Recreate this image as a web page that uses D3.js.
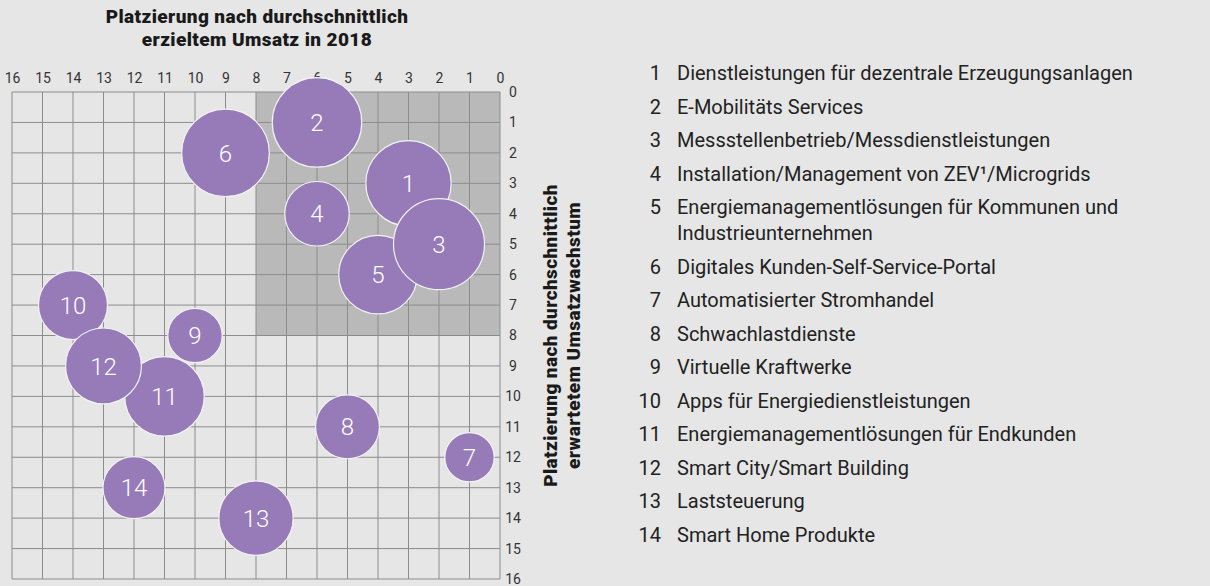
<!DOCTYPE html>
<html>
<head>
<meta charset="utf-8">
<script src="https://cdn.jsdelivr.net/npm/d3@7"></script>
<style>
  html, body { margin: 0; padding: 0; background: #e6e6e6; }
  svg { display: block; font-family: Roboto, "Noto Sans", sans-serif; }
</style>
</head>
<body>
<div class="container"></div>
<script>
// rank by average revenue 2018 (x) and by expected revenue growth (y)
const ids = [1, 2, 3, 4, 5, 6, 7, 8, 9, 10, 11, 12, 13, 14]
const umsatzRang = [3, 6, 2, 6, 4, 9, 1, 5, 10, 14, 11, 13, 8, 12]
const wachstumRang = [3, 1, 5, 4, 6, 2, 12, 11, 8, 7, 10, 9, 14, 13]
const groesse = [18.2, 20.0, 20.7, 10.4, 15.4, 19.2, 6.1, 10.2, 7.4, 11.9, 15.8, 14.4, 13.8, 9.6]
const namen = [
  "Dienstleistungen für dezentrale Erzeugungsanlagen",
  "E-Mobilitäts Services",
  "Messstellenbetrieb/Messdienstleistungen",
  "Installation/Management von ZEV¹/Microgrids",
  "Energiemanagementlösungen für Kommunen und Industrieunternehmen",
  "Digitales Kunden-Self-Service-Portal",
  "Automatisierter Stromhandel",
  "Schwachlastdienste",
  "Virtuelle Kraftwerke",
  "Apps für Energiedienstleistungen",
  "Energiemanagementlösungen für Endkunden",
  "Smart City/Smart Building",
  "Laststeuerung",
  "Smart Home Produkte"
]
const xTicks = d3.range(0, 17)
const yTicks = d3.range(0, 17)
const topRange = [0, 8]   // shaded top-8 square

const w = 1210
const h = 586
const gLeft = 12, gRight = 500, gTop = 92, gBottom = 579

const svg = d3.select(".container").append("svg")
    .attr("width", w)
    .attr("height", h)

const xScale = d3.scaleLinear().domain([16, 0]).range([gLeft, gRight])
const yScale = d3.scaleLinear().domain([0, 16]).range([gTop, gBottom])
const rScale = d3.scaleSqrt().domain([0, d3.max(groesse)]).range([0, 45.5])

const dataset = ids.map((id, i) => ({
    id: id, x: umsatzRang[i], y: wachstumRang[i], s: groesse[i], name: namen[i]
}))

// shaded area
svg.append("rect")
    .attr("x", xScale(topRange[1]))
    .attr("y", yScale(topRange[0]))
    .attr("width", xScale(topRange[0]) - xScale(topRange[1]))
    .attr("height", yScale(topRange[1]) - yScale(topRange[0]))
    .attr("fill", "#b9b9b9")

// grid
svg.selectAll(".vline")
    .data(xTicks)
    .enter()
    .append("line")
    .attr("x1", d => xScale(d)).attr("x2", d => xScale(d))
    .attr("y1", gTop).attr("y2", gBottom)
    .attr("stroke", "#8c8c8c").attr("stroke-width", 1)
svg.selectAll(".hline")
    .data(yTicks)
    .enter()
    .append("line")
    .attr("y1", d => yScale(d)).attr("y2", d => yScale(d))
    .attr("x1", gLeft).attr("x2", gRight)
    .attr("stroke", "#8c8c8c").attr("stroke-width", 1)

// axes
const xAxis = d3.axisTop(xScale).tickValues(xTicks).tickSize(0).tickPadding(8)
const gx = svg.append("g").attr("transform", "translate(0," + (gTop - 1) + ")").call(xAxis)
const yAxis = d3.axisRight(yScale).tickValues(yTicks).tickSize(0).tickPadding(5)
const gy = svg.append("g").attr("transform", "translate(" + gRight + ",0)").call(yAxis)
;[gx, gy].forEach(g => {
    g.select(".domain").remove()
    g.selectAll("text")
        .attr("font-family", "Roboto, sans-serif")
        .attr("font-size", 14)
        .attr("fill", "#333")
})
gy.selectAll("text").attr("text-anchor", "middle").attr("dx", 8)

// titles, centred on the grid
const title = svg.append("text")
    .attr("text-anchor", "middle")
    .attr("font-size", 19)
    .attr("font-weight", 900)
    .attr("letter-spacing", 0.4)
    .attr("fill", "#1a1a1a")
title.append("tspan").attr("x", 257).attr("y", 23).text("Platzierung nach durchschnittlich")
title.append("tspan").attr("x", 257).attr("y", 46).text("erzieltem Umsatz in 2018")

const ytitle = svg.append("text")
    .attr("transform", "translate(557," + (gTop + gBottom) / 2 + ") rotate(-90)")
    .attr("text-anchor", "middle")
    .attr("font-size", 19)
    .attr("font-weight", 900)
    .attr("letter-spacing", 0.4)
    .attr("fill", "#1a1a1a")
ytitle.append("tspan").attr("x", 0).attr("y", 0).text("Platzierung nach durchschnittlich")
ytitle.append("tspan").attr("x", 0).attr("y", 23).text("erwartetem Umsatzwachstum")

// bubbles, 3 sits on top of its neighbours
const order = dataset.slice()
order.splice(4, 0, order.splice(2, 1)[0])
const bub = svg.selectAll(".bubble")
    .data(order)
    .enter()
    .append("g")
    .attr("transform", d => "translate(" + xScale(d.x) + "," + yScale(d.y) + ")")
bub.append("circle")
    .attr("r", d => rScale(d.s))
    .attr("fill", "#977bb9")
    .attr("stroke", "#f2f2f2")
    .attr("stroke-width", 1.2)
bub.append("text")
    .attr("text-anchor", "middle")
    .attr("dy", "0.36em")
    .attr("font-size", 24)
    .attr("font-weight", 300)
    .attr("fill", "#fff")
    .text(d => d.id)

// legend
const lx = 661, tx = 677, step = 33.5, lineH = 26, maxW = 470
let ly = 80
dataset.forEach(d => {
    svg.append("text")
        .attr("x", lx).attr("y", ly)
        .attr("text-anchor", "end")
        .attr("font-size", 20)
        .attr("fill", "#222")
        .text(d.id)
    const t = svg.append("text")
        .attr("x", tx).attr("y", ly)
        .attr("font-size", 20)
        .attr("fill", "#222")
        .text(d.name)
    if (t.node().getComputedTextLength() > maxW) {
        const words = d.name.split(" ")
        t.text(null)
        let line = [], span = t.append("tspan").attr("x", tx).attr("y", ly), extra = 0
        words.forEach(wd => {
            line.push(wd)
            span.text(line.join(" "))
            if (span.node().getComputedTextLength() > maxW && line.length > 1) {
                line.pop()
                span.text(line.join(" "))
                line = [wd]
                extra += lineH
                span = t.append("tspan").attr("x", tx).attr("y", ly + extra).text(wd)
            }
        })
        ly += extra
    }
    ly += step
})
</script>
</body>
</html>
